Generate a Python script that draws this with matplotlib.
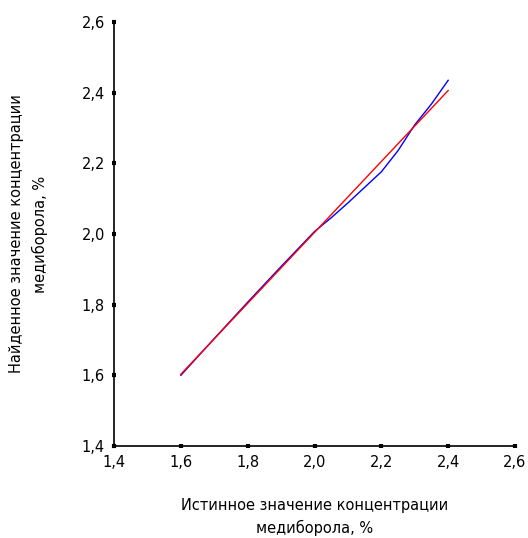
import matplotlib
matplotlib.use("Agg")
import matplotlib.pyplot as plt
from matplotlib.ticker import FuncFormatter

plt.rcParams['font.family'] = ['DejaVu Sans']

# true concentration vs found concentration (measured curve)
x_true = [1.6, 1.7, 1.8, 1.9, 2.0, 2.05, 2.1, 2.15, 2.2, 2.25, 2.3, 2.35, 2.4]
y_found = [1.60, 1.704, 1.807, 1.908, 2.007, 2.046, 2.088, 2.132, 2.176,
           2.236, 2.309, 2.368, 2.435]

# fitted line endpoints
x_fit = [1.6, 2.4]
y_fit = [1.603, 2.406]

ticks = [1.4, 1.6, 1.8, 2.0, 2.2, 2.4, 2.6]

fig = plt.figure(figsize=(5.28, 5.38), dpi=100)
ax = fig.add_axes([114 / 528, 1 - 446 / 538, 401 / 528, 424 / 538])

ax.plot(x_true, y_found, color='#0000ff', lw=1)
ax.plot(x_fit, y_fit, color='#ff0000', lw=1)

ax.set_xlim(1.4, 2.6)
ax.set_ylim(1.4, 2.6)
ax.set_xticks(ticks)
ax.set_yticks(ticks)
fmt = FuncFormatter(lambda v, p: "{:.1f}".format(v).replace('.', ','))
ax.xaxis.set_major_formatter(fmt)
ax.yaxis.set_major_formatter(fmt)

for s in ['top', 'right']:
    ax.spines[s].set_visible(False)
for s in ['left', 'bottom']:
    ax.spines[s].set_linewidth(1.2)
ax.tick_params(direction='inout', length=3, width=3, labelsize=10.5, pad=5)

ax.set_xlabel("Истинное значение концентрации\nмедиборола, %", fontsize=10.5,
              labelpad=20, linespacing=1.55)
ax.set_ylabel("Найденное значение концентрации\nмедиборола, %", fontsize=10.5,
              labelpad=24, linespacing=1.6)

fig.savefig("out.png", dpi=100)
